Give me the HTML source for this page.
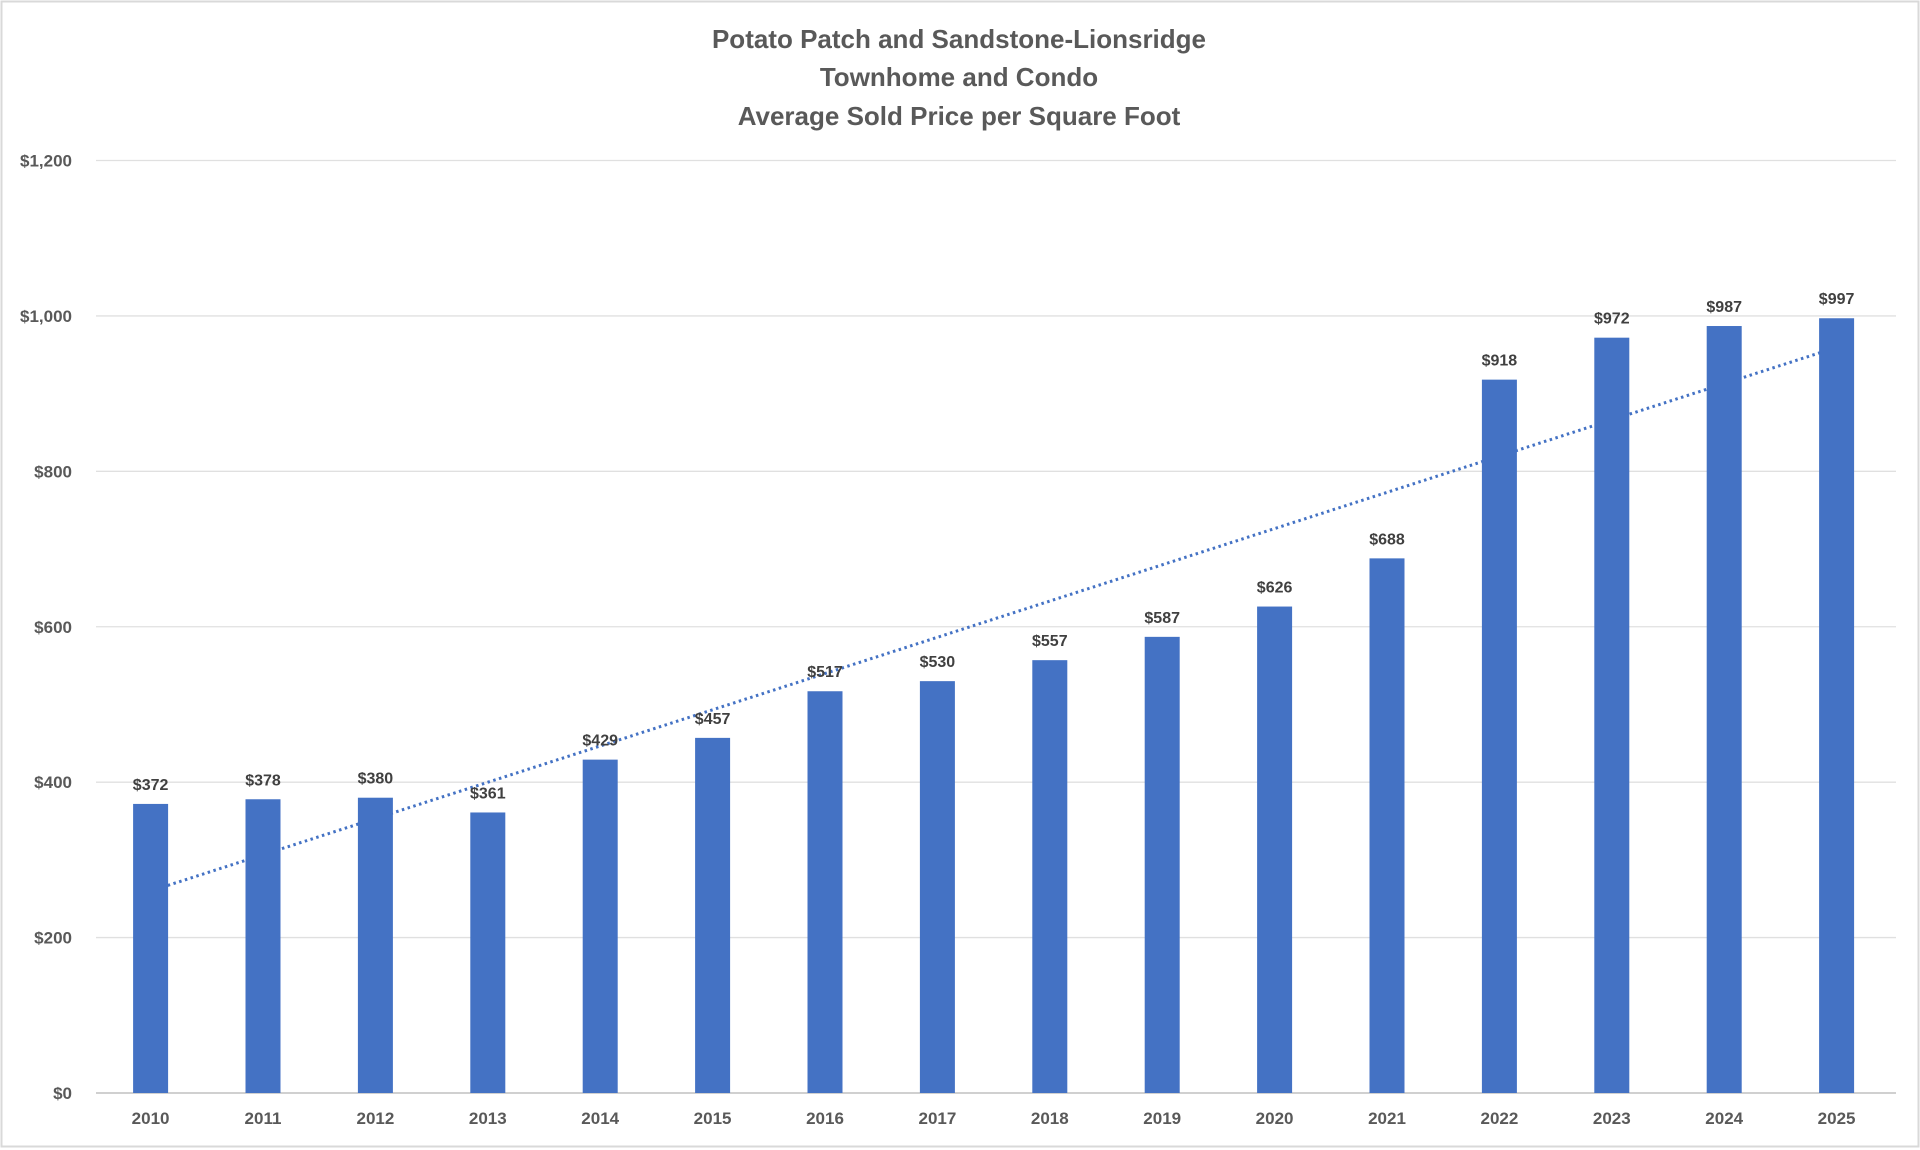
<!DOCTYPE html>
<html><head><meta charset="utf-8">
<style>
html,body{margin:0;padding:0;background:#fff;}
svg{display:block;font-family:"Liberation Sans",Arial,sans-serif;}
</style></head>
<body>
<svg id="chart" width="1920" height="1150" viewBox="0 0 1920 1150" xmlns="http://www.w3.org/2000/svg">
<rect x="1.5" y="1.5" width="1917" height="1145" fill="#fff" stroke="#d9d9d9" stroke-width="2"/>
<g fill="#595959" font-weight="bold" font-size="26" text-anchor="middle">
<text x="959" y="48">Potato Patch and Sandstone-Lionsridge</text>
<text x="959" y="86">Townhome and Condo</text>
<text x="959" y="125">Average Sold Price per Square Foot</text>
</g>
<g id="grid"></g><g id="yticks"></g><g id="trend"></g><g id="bars"></g><g id="labels"></g><g id="xticks"></g>
</svg>
<script>
const categories=["2010","2011","2012","2013","2014","2015","2016","2017","2018","2019","2020","2021","2022","2023","2024","2025"];
const values=[372,378,380,361,429,457,517,530,557,587,626,688,918,972,987,997];
const yTicks=[0,200,400,600,800,1000,1200];
const yTickLabels=["$0","$200","$400","$600","$800","$1,000","$1,200"];
const NS="http://www.w3.org/2000/svg";
const plotLeft=94.4,plotRight=1892.8,plotBase=1093,plotTop=160.5,yMax=1200;
const gridLeft=96,gridRight=1896;
const step=(plotRight-plotLeft)/categories.length,barW=35;
const xc=i=>plotLeft+step*(i+0.5);
const yPos=v=>plotBase-(v/yMax)*(plotBase-plotTop);
function mk(tag,attrs,parent,text){const e=document.createElementNS(NS,tag);for(const k in attrs)e.setAttribute(k,attrs[k]);if(text!==undefined)e.textContent=text;document.getElementById(parent).appendChild(e);return e;}
yTicks.forEach((t,i)=>{
 const l=mk('line',{x1:gridLeft,x2:gridRight,y1:yPos(t),y2:yPos(t),stroke:t===0?'#d0d0d0':'#e0e0e0','stroke-width':t===0?2:1.3},'grid');
 
 
 const tx=mk('text',{x:72,y:yPos(t)+6,'text-anchor':'end','font-size':17,'font-weight':'bold',fill:'#595959'},'yticks',yTickLabels[i]);
 
 
});
const n=values.length;let sx=0,sy=0,sxy=0,sxx=0;
values.forEach((v,i)=>{const xx=i+1;sx+=xx;sy+=v;sxy+=xx*v;sxx+=xx*xx;});
const slope=(n*sxy-sx*sy)/(n*sxx-sx*sx),icpt=(sy-slope*sx)/n;
const tl=mk('line',{x1:xc(0),y1:yPos(icpt+slope),x2:xc(n-1),y2:yPos(icpt+slope*n),stroke:'#4472C4','stroke-width':3,'stroke-dasharray':'2.5 3.5'},'trend');


values.forEach((v,i)=>{
 const r=mk('rect',{x:xc(i)-barW/2,y:yPos(v),width:barW,height:plotBase-yPos(v),fill:'#4472C4'},'bars');
 
 
 const lb=mk('text',{x:xc(i),y:yPos(v)-14,'text-anchor':'middle','font-size':16,'font-weight':'bold',fill:'#404040'},'labels','$'+v);
 
 
 const xt=mk('text',{x:xc(i),y:1124,'text-anchor':'middle','font-size':17,'font-weight':'bold',fill:'#595959'},'xticks',categories[i]);
 
 
});
</script>
</body></html>
